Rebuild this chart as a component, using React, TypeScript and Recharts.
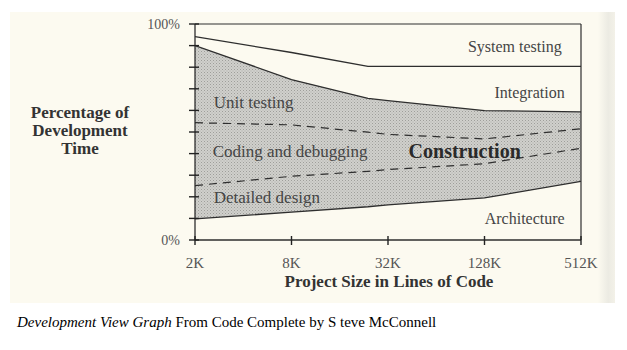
import { Area, ComposedChart, Line, ReferenceDot, ReferenceLine, XAxis, YAxis } from "recharts";

// project sizes in thousands of lines, read at the bends of the curves
const sizesK = [2, 8, 24, 32, 128, 512];
// boundaries between phases, % of development time (cumulative from bottom)
const systemTestingBottom = [94.2, 86.8, 80.4, 80.4, 80.4, 80.4];
const integrationBottom = [90, 74.3, 65.6, 64.5, 59.9, 59.3];
const unitTestingBottom = [54.3, 53.3, 49.9, 48.9, 46.8, 51.5];
const codingBottom = [25.2, 29.5, 31.8, 32.6, 35.3, 42.5];
const architectureTop = [9.8, 12.9, 15.4, 16.3, 19.5, 27.1];

const xTicks = [2, 8, 32, 128, 512];
const xTickLabels = ["2K", "8K", "32K", "128K", "512K"];
const yTicks = [0, 10, 20, 30, 40, 50, 60, 70, 80, 90, 100];

// phase names, placed in data units (size K, percent)
const regionNames = ["Unit testing", "Coding and debugging", "Detailed design", "Construction", "System testing", "Integration", "Architecture"];
const regionSizes = [2.62, 2.58, 2.62, 43, 388, 405, 405];
const regionPct = [64, 41, 20.1, 41, 89.6, 68.3, 10];

const data = sizesK.map((size, i) => ({
  size,
  system: systemTestingBottom[i],
  integration: integrationBottom[i],
  unit: unitTestingBottom[i],
  coding: codingBottom[i],
  architecture: architectureTop[i],
}));

const ink = "#2e2e2e";
const serif = "'Liberation Serif', 'Times New Roman', serif";

function YTick({ x, y, payload }: any) {
  const v = payload.value;
  return (
    <g>
      <line x1={x - 6} x2={x + 4} y1={y} y2={y} stroke="#222" strokeWidth={1.4} />
      {(v === 0 || v === 100) && (
        <text x={x - 15} y={y} dy="0.35em" textAnchor="end" fontSize={14} fill="#555" fontFamily={serif}>
          {v}%
        </text>
      )}
    </g>
  );
}

function XTick({ x, y, payload }: any) {
  const idx = xTicks.indexOf(payload.value);
  return (
    <g>
      <line x1={x} x2={x} y1={y - 4} y2={y + 5} stroke="#222" strokeWidth={1.4} />
      <text x={x} y={y + 23} dy="0.35em" textAnchor="middle" fontSize={15} fill="#555" fontFamily={serif}>
        {xTickLabels[idx]}
      </text>
    </g>
  );
}

function regionShape(i: number) {
  return (p: any) => {
    const name = regionNames[i];
    const rightSide = i >= 4;
    const bold = name === "Construction";
    return (
      <text
        x={p.cx}
        y={p.cy}
        dy="0.35em"
        textAnchor={rightSide ? "end" : "start"}
        fontSize={bold ? 20 : rightSide ? 16 : 17}
        fontWeight={bold ? "bold" : "normal"}
        fill={bold ? "#2a2a2a" : "#454545"}
        fontFamily={serif}
      >
        {name}
      </text>
    );
  };
}

export default function App() {
  return (
    <div style={{ position: "absolute", left: 0, top: 0, width: 627, height: 350, background: "#ffffff", fontFamily: serif }}>
      <div style={{ position: "absolute", left: 10, top: 12, width: 605, height: 291, background: "#fcfaf0" }} />
      <div
        style={{
          position: "absolute",
          left: 598,
          top: 12,
          width: 17,
          height: 291,
          background: "linear-gradient(to right, #fcfaf0, #ecebe3 60%, #f3f1e8)",
        }}
      />
      <div
        style={{
          position: "absolute",
          left: 0,
          top: 104,
          width: 160,
          textAlign: "center",
          fontWeight: "bold",
          fontSize: 17,
          lineHeight: "18px",
          color: "#333",
        }}
      >
        Percentage of
        <br />
        Development
        <br />
        Time
      </div>
      <div
        style={{
          position: "absolute",
          left: 189,
          top: 272,
          width: 400,
          textAlign: "center",
          fontWeight: "bold",
          fontSize: 17,
          color: "#333",
        }}
      >
        Project Size in Lines of Code
      </div>
      <div
        style={{
          position: "absolute",
          left: 17,
          top: 314,
          fontSize: 15,
          color: "#000",
          whiteSpace: "nowrap",
          fontFamily: "'Liberation Serif', serif",
        }}
      >
        <i>Development View Graph</i> From Code Complete by S teve McConnell
      </div>
      <div style={{ position: "absolute", left: 0, top: 0 }}>
        <ComposedChart width={627} height={350} data={data} margin={{ top: 24, right: 46, bottom: 80, left: 155 }}>
          <defs>
            <pattern id="dots" width="3" height="3" patternUnits="userSpaceOnUse">
              <rect width="3" height="3" fill="#d0d0cc" />
              <rect width="1" height="1" fill="#9e9e9a" />
              <rect x="1.5" y="1.5" width="1" height="1" fill="#aeaeaa" />
            </pattern>
          </defs>
          <Area
            type="linear"
            dataKey={(d: any) => [d.architecture, d.integration]}
            fill="url(#dots)"
            fillOpacity={1}
            stroke="none"
            isAnimationActive={false}
          />
          <XAxis
            dataKey="size"
            type="number"
            scale="log"
            domain={[2, 512]}
            ticks={xTicks}
            interval={0}
            allowDataOverflow
            height={30}
            tickSize={0}
            tickMargin={0}
            tickLine={false}
            axisLine={{ stroke: ink, strokeWidth: 1.3 }}
            tick={<XTick />}
          />
          <YAxis
            type="number"
            domain={[0, 100]}
            ticks={yTicks}
            interval={0}
            width={40}
            tickSize={0}
            tickMargin={0}
            tickLine={false}
            axisLine={{ stroke: ink, strokeWidth: 1.3 }}
            tick={<YTick />}
          />
          <ReferenceLine y={100} stroke={ink} strokeWidth={1.2} />
          <ReferenceLine x={512} stroke={ink} strokeWidth={1.2} />
          <Line type="linear" dataKey="system" stroke={ink} strokeWidth={1.3} dot={false} isAnimationActive={false} />
          <Line type="linear" dataKey="integration" stroke={ink} strokeWidth={1.3} dot={false} isAnimationActive={false} />
          <Line
            type="linear"
            dataKey="unit"
            stroke={ink}
            strokeWidth={1.2}
            strokeDasharray="8 6"
            dot={false}
            isAnimationActive={false}
          />
          <Line
            type="linear"
            dataKey="coding"
            stroke={ink}
            strokeWidth={1.2}
            strokeDasharray="8 6"
            dot={false}
            isAnimationActive={false}
          />
          <Line type="linear" dataKey="architecture" stroke={ink} strokeWidth={1.3} dot={false} isAnimationActive={false} />
          {regionNames.map((name, i) => (
            <ReferenceDot key={name} x={regionSizes[i]} y={regionPct[i]} r={0} shape={regionShape(i)} />
          ))}
        </ComposedChart>
      </div>
    </div>
  );
}
